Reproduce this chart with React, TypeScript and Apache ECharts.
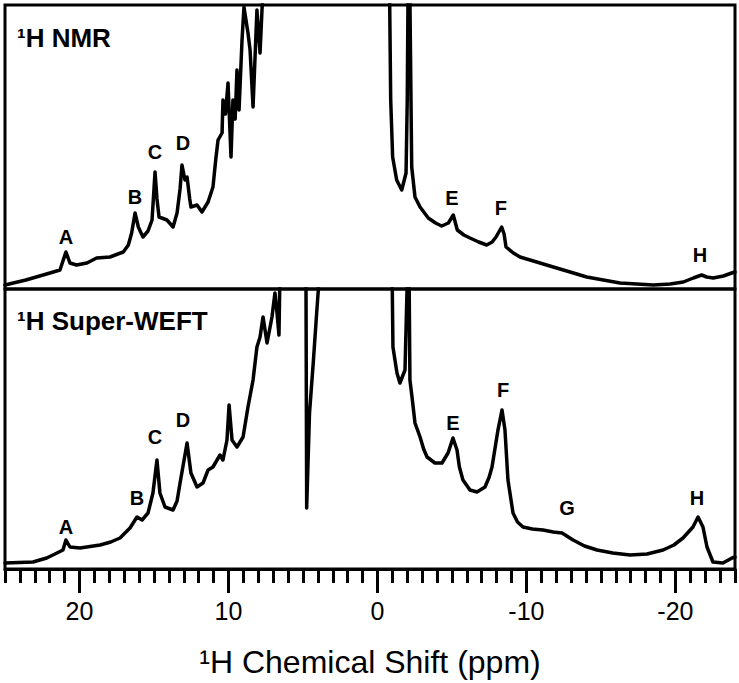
import React, { useEffect, useRef } from "react";
import * as echarts from "echarts";

// ppm, intensity (arbitrary units, panel-relative)
const nmrSpectrum: [number, number][] = [
  [25.0, 4], [23.6, 9], [21.98, 16], [21.31, 19], [20.91, 37], [20.64, 26], [20.2, 24], [19.5, 26],
  [18.85, 31], [17.95, 32], [17.06, 37], [16.72, 44], [16.5, 56], [16.27, 76], [16.05, 62],
  [15.74, 52], [15.4, 58], [15.13, 69], [14.93, 117], [14.8, 90], [14.66, 72], [14.13, 69],
  [13.72, 62], [13.45, 76], [13.25, 100], [13.12, 124], [12.92, 109], [12.78, 112], [12.6, 90],
  [12.52, 82], [12.11, 84], [11.78, 77], [11.37, 87], [11.04, 102], [10.85, 130], [10.7, 149],
  [10.43, 156], [10.37, 189], [10.2, 175], [10.03, 206], [9.83, 132], [9.7, 189], [9.55, 170],
  [9.43, 219], [9.29, 179], [9.09, 249], [8.96, 282], [8.69, 256], [8.55, 239], [8.35, 182],
  [8.09, 279], [7.88, 236], [7.75, 279], [7.55, 330],
  [-0.79, 330], [-0.89, 189], [-1.02, 132], [-1.29, 109], [-1.63, 99], [-1.92, 116], [-2.0, 189],
  [-2.07, 330], [-2.15, 330], [-2.3, 122], [-2.52, 92], [-2.86, 82], [-3.41, 71], [-3.9, 66],
  [-4.31, 63], [-4.76, 66], [-5.09, 74], [-5.36, 59], [-5.8, 54], [-6.21, 51], [-6.8, 47],
  [-7.33, 44], [-7.7, 47], [-7.96, 52], [-8.34, 62], [-8.5, 55], [-8.63, 42], [-9.12, 36],
  [-9.57, 32], [-10.69, 27], [-11.8, 22], [-12.93, 17], [-14.05, 12], [-15.16, 9], [-16.28, 6],
  [-17.4, 5], [-18.52, 4], [-19.64, 5], [-20.53, 7], [-21.2, 11], [-21.76, 14], [-22.1, 12],
  [-22.54, 11], [-23.22, 13], [-23.78, 16], [-24, 17],
];

const weftSpectrum: [number, number][] = [
  [25.0, 6], [23.12, 7], [22.2, 11], [21.51, 16], [21.11, 19], [20.91, 29], [20.64, 22], [19.97, 21],
  [18.62, 24], [17.9, 27], [17.28, 31], [16.61, 41], [16.14, 52], [15.8, 49], [15.4, 56], [15.07, 76],
  [14.8, 109], [14.6, 76], [14.26, 62], [13.72, 59], [13.45, 68], [13.25, 86], [12.78, 126], [12.52, 96],
  [12.11, 82], [11.71, 86], [11.37, 99], [11.04, 102], [10.57, 114], [10.37, 109], [10.1, 129],
  [9.96, 164], [9.76, 129], [9.43, 122], [9.02, 132], [8.69, 162], [8.35, 189], [8.09, 222],
  [7.88, 232], [7.68, 252], [7.41, 226], [7.08, 252], [6.88, 276], [6.74, 256], [6.61, 234],
  [6.54, 300], [4.8, 300], [4.75, 61], [4.56, 156], [4.31, 206], [4.08, 256], [3.97, 279],
  [3.9, 300], [-0.98, 300], [-1.04, 222], [-1.31, 196], [-1.51, 186], [-1.85, 199], [-2.02, 300],
  [-2.12, 300], [-2.18, 189], [-2.32, 172], [-2.52, 146], [-2.86, 132], [-3.1, 120], [-3.33, 112],
  [-3.86, 106], [-4.33, 106], [-4.74, 116], [-5.07, 131], [-5.34, 119], [-5.5, 102], [-5.74, 89], [-6.21, 79],
  [-6.68, 77], [-7.22, 82], [-7.5, 92], [-7.69, 102], [-8.09, 139], [-8.36, 159], [-8.56, 139], [-8.76, 89],
  [-9.1, 56], [-9.4, 47], [-9.77, 42], [-10.4, 40], [-11.11, 39], [-11.8, 37], [-12.39, 36], [-13.13, 29],
  [-13.9, 23], [-14.74, 19], [-15.8, 16], [-16.95, 14], [-18.1, 15], [-19.17, 19], [-19.9, 24],
  [-20.51, 31], [-21.18, 42], [-21.52, 52], [-21.85, 42], [-22.12, 22],
  [-22.52, 7], [-23.19, 6], [-23.8, 11], [-24, 12],
];

// peak labels: name, ppm, label-centre height
const nmrPeakLabels: [string, number, number][] = [
  ["A", 20.91, 52], ["B", 16.27, 92], ["C", 14.93, 137], ["D", 13.05, 146],
  ["E", -5.0, 91], ["F", -8.29, 81], ["H", -21.65, 34],
];
const weftPeakLabels: [string, number, number][] = [
  ["A", 20.91, 42], ["B", 16.14, 71], ["C", 14.93, 132], ["D", 13.05, 149],
  ["E", -5.07, 146], ["F", -8.43, 179], ["G", -12.72, 61], ["H", -21.45, 71],
];

const majorTicks = [20, 10, 0, -10, -20];
const xMin = -24;
const xMax = 25;
const panelTitles = ["\u00B9H NMR", "\u00B9H Super-WEFT"];
const axisTitle = "\u00B9H Chemical Shift (ppm)";

const FONT = "'Liberation Sans', Arial, sans-serif";

export default function App() {
  const ref = useRef<HTMLDivElement>(null);
  useEffect(() => {
    document.body.style.margin = "0";
    const chart = echarts.init(ref.current!, null, { renderer: "svg" });
    const baseX = {
      type: "value" as const,
      min: xMin,
      max: xMax,
      inverse: true,
      splitLine: { show: false },
    };
    const labelSeries = (data: [string, number, number][], idx: number) => ({
      type: "scatter",
      xAxisIndex: idx,
      yAxisIndex: idx,
      symbolSize: 1,
      itemStyle: { color: "rgba(0,0,0,0)" },
      silent: true,
      data: data.map(([n, x, y]) => ({ name: n, value: [x, y] })),
      label: {
        show: true,
        position: "inside",
        formatter: "{b}",
        fontSize: 20,
        fontWeight: "bold",
        fontFamily: FONT,
        color: "#000",
        textBorderWidth: 0,
        opacity: 1,
      },
    });
    chart.setOption({
      animation: false,
      backgroundColor: "#fff",
      grid: [
        { left: 5, top: 5, width: 730, height: 284, show: true, borderColor: "#000", borderWidth: 3 },
        { left: 5, top: 289, width: 730, height: 280, show: true, borderColor: "#000", borderWidth: 3 },
        { left: 5, top: 289, width: 730, height: 280, show: false },
      ],
      xAxis: [
        { ...baseX, gridIndex: 0, show: false },
        {
          ...baseX,
          gridIndex: 1,
          axisLine: { show: true, lineStyle: { color: "#000", width: 3 } },
          axisTick: { show: true, customValues: majorTicks, length: 24, lineStyle: { color: "#000", width: 3 } },
          axisLabel: {
            show: true,
            customValues: majorTicks,
            formatter: (v: number) => String(v),
            fontSize: 25,
            fontFamily: FONT,
            color: "#000",
            margin: 29,
          },
          name: axisTitle,
          nameLocation: "middle",
          nameGap: 77,
          nameTextStyle: { fontSize: 32, fontFamily: FONT, color: "#000" },
        },
        {
          ...baseX,
          gridIndex: 2,
          interval: 1,
          axisLine: { show: false },
          axisTick: { show: true, length: 14, lineStyle: { color: "#000", width: 3 } },
          axisLabel: { show: false },
        },
      ],
      yAxis: [
        { type: "value", gridIndex: 0, min: 0, max: 284, show: false, splitLine: { show: false } },
        { type: "value", gridIndex: 1, min: 0, max: 280, show: false, splitLine: { show: false } },
        { type: "value", gridIndex: 2, min: 0, max: 280, show: false, splitLine: { show: false } },
      ],
      graphic: [
        {
          type: "text",
          x: 17,
          y: 38,
          style: { text: panelTitles[0], fontSize: 26, fontWeight: "bold", fontFamily: FONT, fill: "#000", verticalAlign: "middle" },
        },
        {
          type: "text",
          x: 17,
          y: 321,
          style: { text: panelTitles[1], fontSize: 26, fontWeight: "bold", fontFamily: FONT, fill: "#000", verticalAlign: "middle" },
        },
      ],
      series: [
        {
          type: "line",
          xAxisIndex: 0,
          yAxisIndex: 0,
          data: nmrSpectrum,
          symbol: "none",
          clip: true,
          lineStyle: { color: "#000", width: 3.5, join: "round", cap: "round" },
        },
        {
          type: "line",
          xAxisIndex: 1,
          yAxisIndex: 1,
          data: weftSpectrum,
          symbol: "none",
          clip: true,
          lineStyle: { color: "#000", width: 3.5, join: "round", cap: "round" },
        },
        labelSeries(nmrPeakLabels, 0),
        labelSeries(weftPeakLabels, 1),
      ],
    });
    return () => chart.dispose();
  }, []);
  return <div ref={ref} style={{ width: 739, height: 683 }} />;
}
